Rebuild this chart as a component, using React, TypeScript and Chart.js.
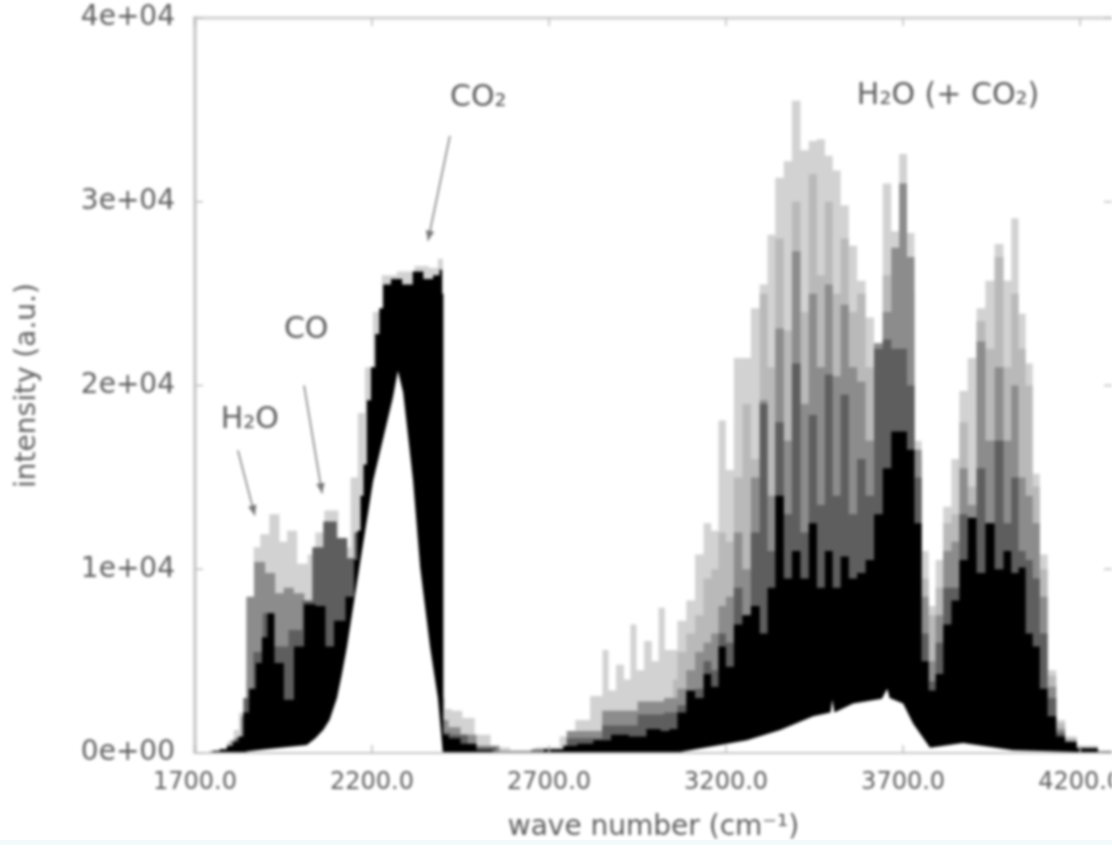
import React, { useEffect, useRef } from "react";
import { Chart, registerables } from "chart.js";

Chart.register(...registerables);

const xTickValues = [1700, 2200, 2700, 3200, 3700, 4200];
const xTickLabels = ["1700.0", "2200.0", "2700.0", "3200.0", "3700.0", "4200.0"];
const yTickLabels = ["0e+00", "1e+04", "2e+04", "3e+04", "4e+04"];

// Dense right-hand band: one shared column of wave numbers
const bandWave = [3050,3075,3100,3125,3148,3168,3189,3210,3234,3258,3282,3308,3326,3352,3374,3398,3422,3445,3468,3490,3512,3535,3558,3582,3606,3630,3655,3678,3700,3722,3742,3762,3782,3802,3825,3848,3870,3895,3920,3945,3972,3995,4016,4036,4056,4076,4096,4120,4145,4170,4210,4290];
const paleBand = [5600,7200,8300,10800,12500,12100,18100,15400,21500,21500,24200,25500,28200,31300,32200,35500,32800,33300,33400,32500,31700,29800,27600,25700,23700,22300,31000,28400,32600,28300,17000,11000,8000,10500,13400,16000,19700,21500,24200,25700,27700,25700,29100,23900,21200,15200,10800,4500,1800,900,400,100];
const lightBand = [4000,5500,6500,7500,9500,10000,12000,11500,15000,19000,16000,25000,21000,28000,23000,30000,24000,31500,26000,30000,25000,28000,24000,25000,21000,21800,26000,22000,31000,25000,16000,9500,7500,9000,12500,13000,18000,14500,23500,22000,27000,21000,25000,22000,20000,14500,10000,4200,1600,800,300,80];
const midBand = [3000,3500,4500,5500,6000,6500,8000,8500,12000,10000,15000,19200,14000,23100,17000,27300,19000,25000,21000,25500,20500,24400,21000,20200,17000,22300,24000,27500,31000,27000,16500,8500,5000,7500,11000,11500,15500,13500,22400,17000,21000,17000,20000,15000,14000,12500,8500,3600,1300,700,300,60];
const darkBand = [2200,2600,3000,3500,5000,4500,6500,6000,9000,7500,12000,19000,11000,18000,13000,21200,12000,18400,13500,20600,14000,19500,13000,16000,14000,22000,22500,22000,22000,20000,15000,6500,3900,6000,9000,9000,13000,11000,15500,12500,17000,12500,15000,11000,10500,9500,6500,3000,1100,600,250,40];
const blackBand = [1300,2200,3400,3000,4300,3600,5800,4700,7000,7500,8000,6500,9000,14000,9500,11000,9500,12500,9000,11000,9000,10700,9500,9800,10500,13000,15500,17500,17500,16500,12500,5000,3400,4300,7000,8300,10500,12800,9800,12500,10000,11000,9800,10100,6500,5800,3500,2000,900,600,250,80];

// Left-hand part of each layer
const paleWave = [1700,1720,1740,1760,1780,1800,1819,1830,1840,1848,1856,1876,1893,1927,1950,1970,2007,2030,2050,2081,2129,2150,2170,2190,2215,2240,2300,2340,2380,2392,2398,2402,2410,2440,2470,2510,2560,2620,2700,2760,2788,2844,2858,2878,2900,2923,2937,2957,2980,3000,3019,3035];
const paleIntensity = [0,30,60,120,250,600,1250,2200,3000,4000,8500,11200,11900,13000,11500,12100,10300,10800,12000,13200,11200,15000,18500,21000,24000,26000,26200,26500,26400,26900,26900,3000,2400,2300,1900,1000,300,150,300,900,1800,3100,5600,3400,4800,4000,7000,4500,6100,5000,7900,5600];
const midWave = [1700,1780,1820,1840,1850,1884,1912,1941,1960,1998,2020,2050,2140,2150,2398,2402,2430,2470,2520,2600,2700,2800,2900,3000];
const midIntensity = [0,100,700,2000,8500,10400,9800,8700,9000,8700,8200,8500,8000,8000,8000,1800,1400,1000,400,100,200,1200,2300,2800];
const darkWave = [1700,1760,1800,1825,1850,1880,1903,1940,1988,2019,2044,2081,2120,2140,2160,2398,2402,2440,2500,2600,2700,2800,2900,3000];
const darkIntensity = [0,40,200,800,3000,5500,7600,5800,6700,8300,11200,12600,11700,10600,12000,12000,1100,1000,300,80,150,800,1500,2100];
const blackWave = [1700,1720,1740,1760,1780,1800,1815,1830,1843,1862,1881,1897,1912,1937,1965,1994,2022,2059,2078,2107,2143,2155,2163,2172,2180,2191,2203,2215,2226,2237,2270,2300,2330,2360,2385,2396,2400,2403,2430,2470,2520,2560,2650,2720,2760,2800,2850,2900,2950,3000,3030];
const blackIntensity = [0,20,50,120,200,400,600,900,2200,3500,4900,6300,7600,4900,2900,5800,8100,8000,5800,7200,8500,10500,12100,14000,15700,19200,21000,22800,24200,25500,25800,25500,26200,25800,26000,26300,25000,1000,800,500,150,50,60,200,400,500,700,1000,900,1300,1200];

const gapWave = [1700,1830,1850,1900,2016,2040,2062,2080,2101,2115,2129,2166,2203,2259,2273,2288,2316,2336,2364,2386,2400,2700,3070,3259,3353,3446,3495,3500,3506,3559,3640,3655,3662,3700,3728,3776,3869,4011,4290];
const gapIntensity = [0,0,100,200,430,800,1250,1800,3000,4300,5760,10300,14800,19350,20800,19600,14800,10100,5760,3000,0,0,50,700,1250,2000,2200,2900,2200,2700,2950,3500,3000,2700,1600,280,550,150,0];

const noteTexts = ["H₂O", "CO", "CO₂", "H₂O (+ CO₂)"];
const noteWave = [1855, 2014, 2500, 3827];
const noteIntensity = [18100, 23000, 35650, 35750];

const arrowFromWave = [1821, 2008, 2420];
const arrowFromIntensity = [16470, 20000, 33590];
const arrowToWave = [1869, 2059, 2358];
const arrowToIntensity = [12930, 14130, 27880];

const zip = (xs: number[], ys: number[]) => xs.map((x, i) => ({ x, y: ys[i] }));

const layer = (label: string, xs: number[], ys: number[], color: string, order: number, stepped: any) => ({
  label,
  data: zip(xs, ys),
  backgroundColor: color,
  borderColor: color,
  borderWidth: 0,
  pointRadius: 0,
  tension: 0,
  stepped,
  fill: "origin",
  order,
});

const FONT = "DejaVu Sans";

const decorations = {
  id: "decorations",
  afterDraw(chart: any) {
    const { ctx, chartArea, scales } = chart;
    const x = scales.x;
    const y = scales.y;
    ctx.save();
    ctx.strokeStyle = "#bdbdbd";
    ctx.lineWidth = 1.5;
    ctx.beginPath();
    x.ticks.forEach((t: any) => {
      const px = x.getPixelForValue(t.value);
      ctx.moveTo(px, chartArea.bottom);
      ctx.lineTo(px, chartArea.bottom - 8);
      ctx.moveTo(px, chartArea.top);
      ctx.lineTo(px, chartArea.top + 8);
    });
    y.ticks.forEach((t: any) => {
      const py = y.getPixelForValue(t.value);
      ctx.moveTo(chartArea.left, py);
      ctx.lineTo(chartArea.left + 8, py);
      ctx.moveTo(chartArea.right, py);
      ctx.lineTo(chartArea.right - 8, py);
    });
    ctx.stroke();

    ctx.fillStyle = "#5c5c5c";
    ctx.font = `30px "${FONT}"`;
    ctx.textAlign = "center";
    ctx.textBaseline = "middle";
    noteTexts.forEach((text, i) => {
      ctx.fillText(text, x.getPixelForValue(noteWave[i]), y.getPixelForValue(noteIntensity[i]));
    });

    ctx.strokeStyle = "#777777";
    ctx.fillStyle = "#777777";
    ctx.lineWidth = 1.5;
    arrowFromWave.forEach((w, i) => {
      const x0 = x.getPixelForValue(w);
      const y0 = y.getPixelForValue(arrowFromIntensity[i]);
      const x1 = x.getPixelForValue(arrowToWave[i]);
      const y1 = y.getPixelForValue(arrowToIntensity[i]);
      const a = Math.atan2(y1 - y0, x1 - x0);
      ctx.beginPath();
      ctx.moveTo(x0, y0);
      ctx.lineTo(x1, y1);
      ctx.stroke();
      ctx.beginPath();
      ctx.moveTo(x1, y1);
      ctx.lineTo(x1 - 11 * Math.cos(a - 0.4), y1 - 11 * Math.sin(a - 0.4));
      ctx.lineTo(x1 - 11 * Math.cos(a + 0.4), y1 - 11 * Math.sin(a + 0.4));
      ctx.closePath();
      ctx.fill();
    });
    ctx.restore();
  },
};

export default function App() {
  const ref = useRef<HTMLCanvasElement>(null);

  useEffect(() => {
    if (!ref.current) return;
    const chart = new Chart(ref.current, {
      type: "line",
      data: {
        datasets: [
          layer("pale", [...paleWave, ...bandWave], [...paleIntensity, ...paleBand], "#d2d2d2", 5, "middle"),
          layer("light", bandWave, lightBand, "#b9b9b9", 4, "middle"),
          layer("mid", [...midWave, ...bandWave], [...midIntensity, ...midBand], "#8c8c8c", 3, "middle"),
          layer("dark", [...darkWave, ...bandWave], [...darkIntensity, ...darkBand], "#5e5e5e", 2, "middle"),
          layer("black", [...blackWave, ...bandWave], [...blackIntensity, ...blackBand], "#000000", 1, "middle"),
          layer("gap", gapWave, gapIntensity, "#ffffff", 0, false),
        ] as any,
      },
      options: {
        responsive: false,
        animation: false,
        layout: { padding: { top: 18, right: 0, left: 0, bottom: 0 } },
        plugins: { legend: { display: false }, tooltip: { enabled: false } },
        scales: {
          x: {
            type: "linear",
            min: 1700,
            max: 4290,
            afterBuildTicks(s: any) {
              s.ticks = xTickValues.map((value) => ({ value }));
            },
            afterFit(s: any) {
              s.height = 92;
              s.paddingLeft = 0;
              s.paddingRight = 0;
            },
            grid: { display: false, drawTicks: false },
            border: { display: true, color: "#c4c4c4", width: 2, z: 2 },
            ticks: {
              autoSkip: false,
              maxRotation: 0,
              padding: 15,
              color: "#5c5c5c",
              font: { family: FONT, size: 24 },
              callback: (_v: any, i: number) => xTickLabels[i],
            },
            title: {
              display: true,
              text: "wave number (cm⁻¹)",
              color: "#5c5c5c",
              font: { family: FONT, size: 28 },
              padding: { top: 3, bottom: 0 },
            },
          },
          y: {
            type: "linear",
            min: 0,
            max: 40000,
            afterFit(s: any) {
              s.width = 195;
              s.paddingTop = 0;
              s.paddingBottom = 0;
            },
            grid: { display: false, drawTicks: false },
            border: { display: true, color: "#d0d0d0", width: 4, z: 2 },
            ticks: {
              stepSize: 10000,
              includeBounds: false,
              autoSkip: false,
              padding: 20,
              color: "#5c5c5c",
              font: { family: FONT, size: 28 },
              callback: (_v: any, i: number) => yTickLabels[i],
            },
            title: {
              display: true,
              text: "intensity (a.u.)",
              color: "#5c5c5c",
              font: { family: FONT, size: 28 },
              padding: { top: 11, bottom: 0 },
            },
          },
        },
      } as any,
      plugins: [
        decorations,
        {
          id: "topFrame",
          beforeDatasetsDraw(c: any) {
            const { ctx, chartArea } = c;
            ctx.save();
            ctx.strokeStyle = "#d0d0d0";
            ctx.lineWidth = 3;
            ctx.beginPath();
            ctx.moveTo(chartArea.left, chartArea.top);
            ctx.lineTo(chartArea.right, chartArea.top);
            ctx.stroke();
            ctx.restore();
          },
        },
      ],
    });
    return () => chart.destroy();
  }, []);

  return (
    <div style={{ position: "absolute", left: 0, top: 0, width: 1112, height: 845, background: "#ffffff", overflow: "hidden" }}>
      <canvas ref={ref} width={1112} height={845} style={{ display: "block", filter: "blur(1.8px)" }} />
      <div style={{ position: "absolute", left: 0, top: 840, width: 1112, height: 5, background: "#f3fafc" }} />
    </div>
  );
}
